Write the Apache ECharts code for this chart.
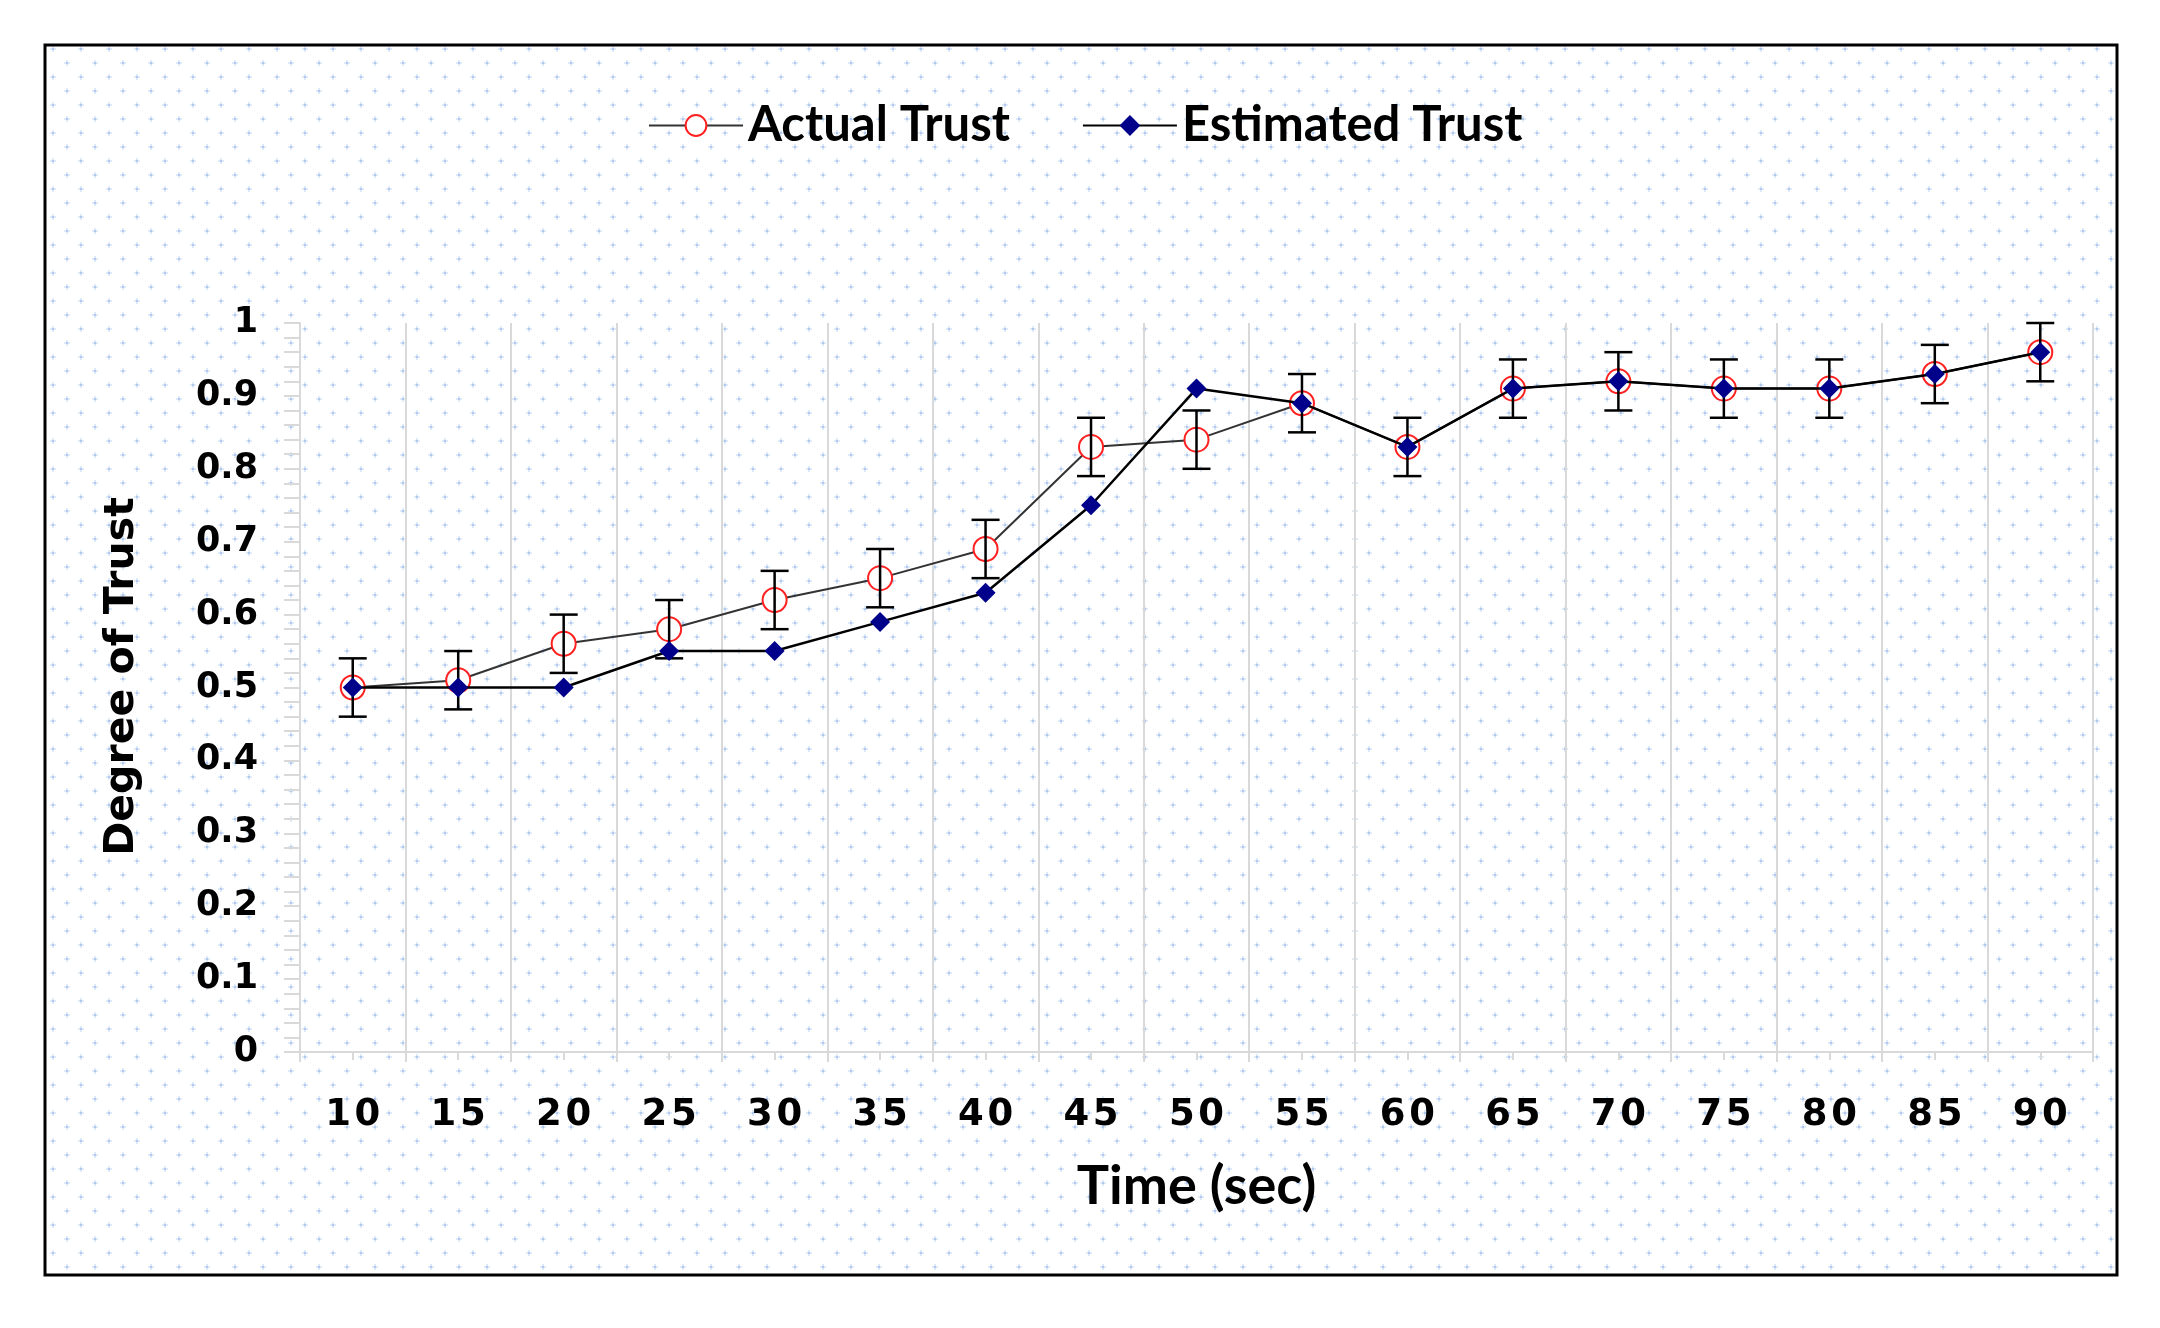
<!DOCTYPE html>
<html><head><meta charset="utf-8">
<script src="https://cdn.jsdelivr.net/npm/echarts@6/dist/echarts.min.js"></script>
<style>html,body{margin:0;padding:0;background:#fff}#c{width:2160px;height:1328px}</style>
</head><body><div id="c"></div>
<script>
const categories = ['10','15','20','25','30','35','40','45','50','55','60','65','70','75','80','85','90'];
const actualTrust = [0.50,0.51,0.56,0.58,0.62,0.65,0.69,0.83,0.84,0.89,0.83,0.91,0.92,0.91,0.91,0.93,0.96];
const estimatedTrust = [0.50,0.50,0.50,0.55,0.55,0.59,0.63,0.75,0.91,0.89,0.83,0.91,0.92,0.91,0.91,0.93,0.96];
const actualError = [0.04,0.04,0.04,0.04,0.04,0.04,0.04,0.04,0.04,0.04,0.04,0.04,0.04,0.04,0.04,0.04,0.04];
const yTickLabels = ['0','0.1','0.2','0.3','0.4','0.5','0.6','0.7','0.8','0.9','1'];

const tile = document.createElement('canvas');
tile.width = 28; tile.height = 28;
const g = tile.getContext('2d');
g.fillStyle = '#ffffff'; g.fillRect(0,0,28,28);
function dot(x, y) {
  g.fillStyle = '#e1ebf8';
  g.fillRect(x-2, y, 6, 2); g.fillRect(x, y-2, 2, 6);
  g.fillStyle = '#adc9ed';
  g.fillRect(x, y, 2, 2);
}
dot(10, 6); dot(24, 20);

const narrow = "Lato, 'Open Sans', sans-serif";
const wide = "'DejaVu Sans', Verdana, sans-serif";

const chart = echarts.init(document.getElementById('c'));
chart.setOption({
  backgroundColor: '#ffffff',
  animation: false,
  graphic: [{
    type: 'rect', z: -100, silent: true,
    shape: { x: 45, y: 45, width: 2072, height: 1230 },
    style: { fill: { image: tile, repeat: 'repeat' }, stroke: '#000', lineWidth: 3 }
  }],
  legend: {
    data: ['Actual Trust', 'Estimated Trust'],
    left: 643, top: 96,
    itemWidth: 94, itemHeight: 26, itemGap: 72,
    textStyle: { fontFamily: narrow, fontWeight: 'bold', fontSize: 49, color: '#000' }
  },
  grid: { left: 300, right: 67, top: 323, bottom: 276 },
  xAxis: [{
    type: 'category', data: categories, boundaryGap: true,
    name: 'Time (sec)', nameLocation: 'middle', nameGap: 108,
    nameTextStyle: { fontFamily: narrow, fontWeight: 'bold', fontSize: 54, color: '#000' },
    axisLine: { lineStyle: { color: '#d9d9d9', width: 2 } },
    axisTick: { show: true, length: 10, lineStyle: { color: '#d9d9d9', width: 2 } },
    axisLabel: { margin: 45, fontFamily: wide, fontWeight: 'bold', fontSize: 37, color: '#000',
      formatter: (v) => v.split('').join('\u200a') },
    splitLine: { show: true, lineStyle: { color: '#d9d9d9', width: 2 } }
  }, {
    type: 'category', data: categories, boundaryGap: true, position: 'bottom',
    axisLine: { show: false },
    axisTick: { show: true, alignWithLabel: true, length: 8, lineStyle: { color: '#d9d9d9', width: 2 } },
    axisLabel: { show: false },
    splitLine: { show: false }
  }],
  yAxis: {
    type: 'value', min: 0, max: 1, interval: 0.1,
    name: 'Degree of Trust', nameLocation: 'middle', nameGap: 157,
    nameTextStyle: { fontFamily: wide, fontWeight: 'bold', fontSize: 41, color: '#000',
      padding: [0, 0, 0, 22] },
    axisLine: { show: true, lineStyle: { color: '#d9d9d9', width: 2 } },
    axisTick: { show: true, length: 16, lineStyle: { color: '#d9d9d9', width: 2 } },
    minorTick: { show: true, splitNumber: 5, length: 16, lineStyle: { color: '#d9d9d9', width: 2 } },
    axisLabel: { margin: 42, fontFamily: wide, fontWeight: 'bold', fontSize: 35, color: '#000',
      formatter: (v) => yTickLabels[Math.round(v * 10)] },
    splitLine: { show: false }
  },
  series: [
    {
      name: 'Actual Trust', type: 'line', data: actualTrust, z: 2,
      symbol: 'emptyCircle', symbolSize: 24,
      lineStyle: { color: '#333333', width: 2 },
      itemStyle: { color: '#ff2020', borderColor: '#ff2020', borderWidth: 2.5 }
    },
    {
      name: 'ActualError', type: 'custom', z: 3, silent: true,
      data: actualTrust.map((v, i) => [i, v - actualError[i], v + actualError[i]]),
      encode: { x: 0, y: [1, 2] },
      renderItem: (params, api) => {
        const i = api.value(0);
        const lo = api.coord([i, api.value(1)]);
        const hi = api.coord([i, api.value(2)]);
        const w = 14;
        const st = { stroke: '#000', lineWidth: 2.5 };
        return { type: 'group', children: [
          { type: 'line', shape: { x1: lo[0], y1: lo[1], x2: hi[0], y2: hi[1] }, style: st },
          { type: 'line', shape: { x1: lo[0]-w, y1: lo[1], x2: lo[0]+w, y2: lo[1] }, style: st },
          { type: 'line', shape: { x1: hi[0]-w, y1: hi[1], x2: hi[0]+w, y2: hi[1] }, style: st }
        ]};
      }
    },
    {
      name: 'Estimated Trust', type: 'line', data: estimatedTrust, z: 4,
      symbol: 'diamond', symbolSize: 20,
      lineStyle: { color: '#000', width: 2.5 },
      itemStyle: { color: '#00008b' }
    }
  ]
});
</script></body></html>
